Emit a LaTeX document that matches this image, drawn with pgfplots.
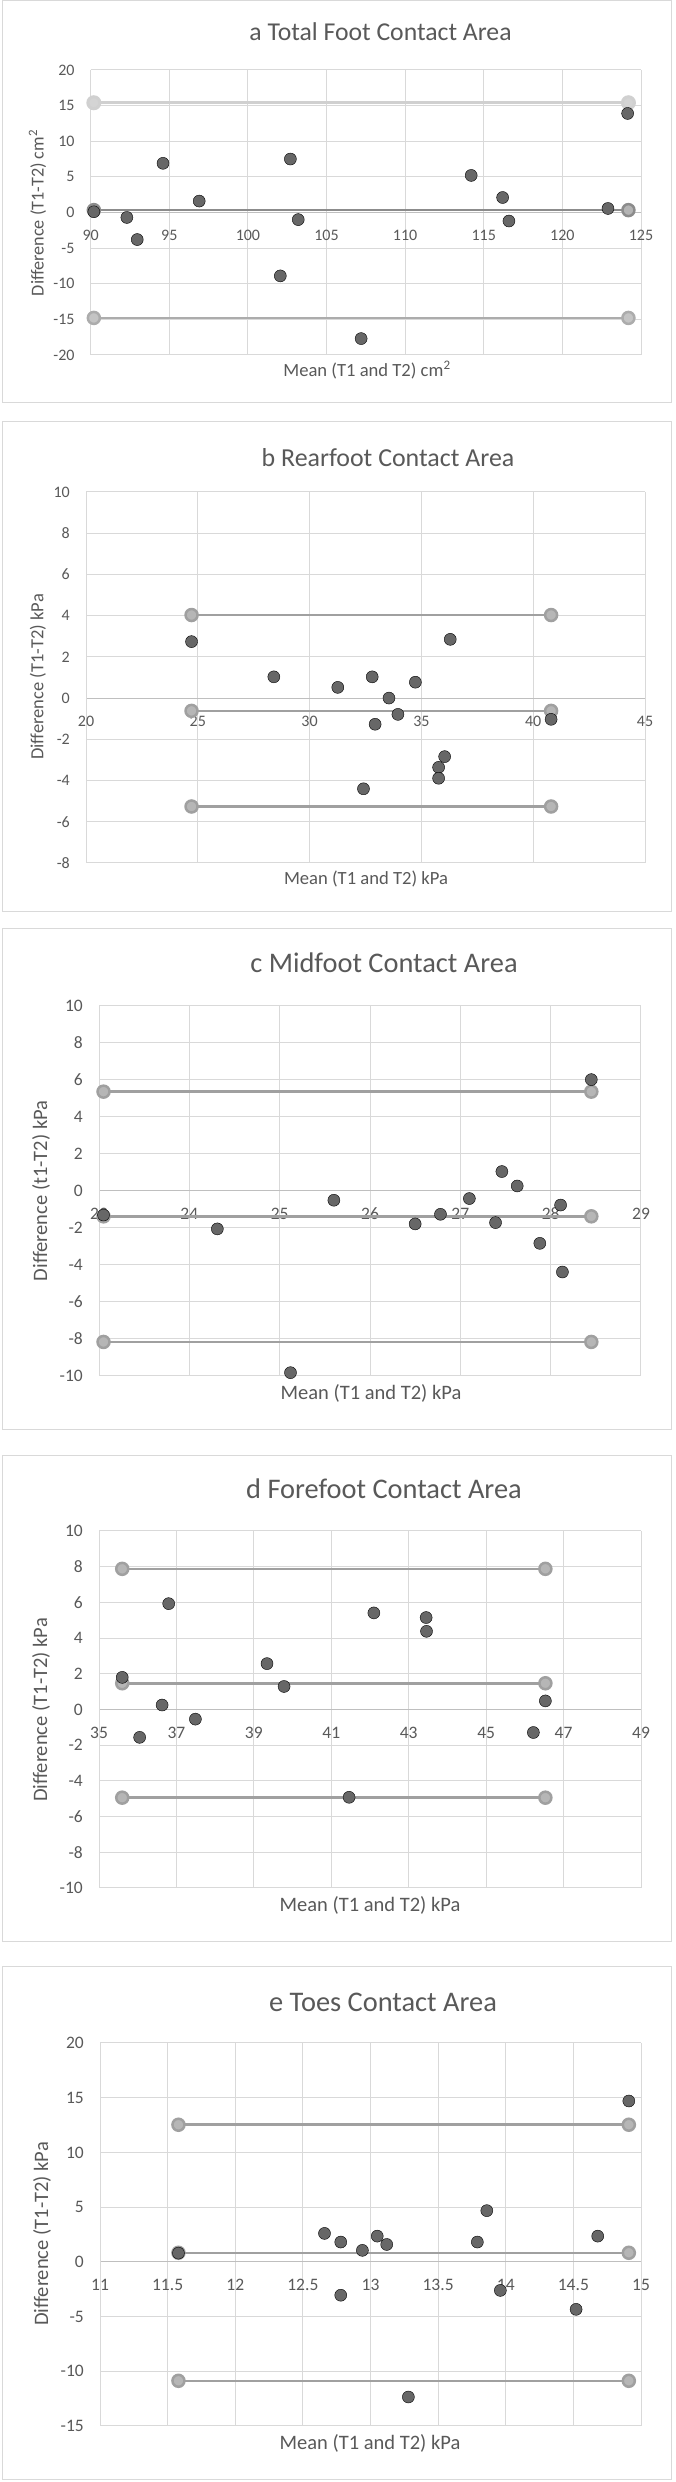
\documentclass[border=0pt]{standalone}
\usepackage{pgfplots}
\pgfplotsset{compat=1.18}
\usepackage{fontspec}
\setmainfont{Carlito}
\definecolor{txt}{HTML}{595959}
\definecolor{grd}{HTML}{D9D9D9}
\definecolor{axl}{HTML}{BFBFBF}
\definecolor{frm}{HTML}{D9D9D9}
\definecolor{dot}{HTML}{676767}
\definecolor{lnA}{HTML}{D0D0D0}
\definecolor{lnB}{HTML}{8C8C8C}
\definecolor{lnC}{HTML}{ACACAC}
\definecolor{mkA}{HTML}{D4D4D4}
\definecolor{mkB}{HTML}{B4B4B4}
\definecolor{mkC}{HTML}{C4C4C4}
\definecolor{ln}{HTML}{A0A0A0}
\definecolor{mk}{HTML}{B6B6B6}
\pgfplotsset{
  ba/.style={
    scale only axis, anchor=south west,
    axis x line=middle, axis y line=left,
    axis line style={-, draw=grd, line width=1pt},
    x axis line style={-, draw=axl, line width=1pt},
    grid=major, grid style={draw=grd, line width=1pt},
    major tick length=0pt, tick style={draw=none},
    hide obscured x ticks=false, hide obscured y ticks=false,
    /pgf/number format/assume math mode=true,
    ticklabel style={text=txt, font=\fontsize{#1}{#1}\selectfont},
    yticklabel style={anchor=east, inner sep=0pt, xshift=-16pt},
    xticklabel style={anchor=center, inner sep=0pt, yshift=-23pt},
    clip=false,
  },
  dat/.style={only marks, mark=*, mark size=6pt, mark options={draw=none, fill=dot}},
  loa/.style 2 args={line width=2.5pt, color=#1, mark=*, mark size=6pt, mark options={draw=none, fill=#2}},
}
\newcommand{\ttl}[1]{\fontsize{#1}{#1}\selectfont}
\begin{document}
\begin{tikzpicture}
\useasboundingbox (0pt,0pt) rectangle (676pt,2482pt);
\fill[white] (0pt,0pt) rectangle (676pt,2482pt);
% frames
\draw[frm, line width=1pt] (2pt,2079pt) rectangle (671pt,2481.5pt);
\draw[frm, line width=1pt] (2pt,1570pt) rectangle (671pt,2060pt);
\draw[frm, line width=1pt] (2pt,1052pt) rectangle (671pt,1553pt);
\draw[frm, line width=1pt] (2pt,540pt) rectangle (671pt,1026pt);
\draw[frm, line width=1pt] (2pt,2pt) rectangle (671pt,515pt);

% ---------- a ----------
\begin{axis}[ba=16, at={(90.7pt,2127pt)}, width=550.3pt, height=285pt,
  xmin=90, xmax=125, ymin=-20, ymax=20,
  xtick={90,95,100,105,110,115,120,125}, ytick={-20,-15,-10,-5,0,5,10,15,20}]
\addplot[loa={lnA}{mkA}, line width=3pt] coordinates {(90.2,15.4) (124.2,15.4)};
\addplot[loa={lnB}{mkB}, line width=2.5pt] coordinates {(90.2,0.33) (124.2,0.33)};
\addplot[loa={lnC}{mkC}, line width=2.5pt] coordinates {(90.2,-14.8) (124.2,-14.8)};
\addplot[dat] coordinates {
(90.2,0.1) (92.3,-0.7) (92.96,-3.8) (94.6,6.9) (96.9,1.6) (102.06,-8.9)
(102.7,7.5) (103.2,-1.0) (107.2,-17.7) (114.2,5.2) (116.2,2.1) (116.6,-1.2)
(122.9,0.56) (124.15,13.9)};
\end{axis}
\node[text=txt, font=\ttl{25.7}] at (380.5pt,2450pt) {a Total Foot Contact Area};
\node[text=txt, font=\ttl{18.6}] at (367pt,2112pt) {Mean (T1 and T2) cm\textsuperscript{2}};
\node[text=txt, font=\ttl{18.2}, rotate=90] at (37.5pt,2269pt) {Difference (T1-T2) cm\textsuperscript{2}};

% ---------- b ----------
\begin{axis}[ba=16, at={(86pt,1619pt)}, width=559pt, height=371pt,
  xmin=20, xmax=45, ymin=-8, ymax=10,
  xtick={20,25,30,35,40,45}, ytick={-8,-6,-4,-2,0,2,4,6,8,10}]
\addplot[loa={ln}{mk}] coordinates {(24.72,4.03) (40.8,4.03)};
\addplot[loa={ln}{mk}] coordinates {(24.72,-0.62) (40.8,-0.62)};
\addplot[loa={ln}{mk}] coordinates {(24.72,-5.26) (40.8,-5.26)};
\addplot[dat] coordinates {
(24.72,2.74) (28.4,1.03) (31.26,0.52) (32.8,1.03) (33.55,0.0) (34.73,0.77)
(33.95,-0.79) (32.93,-1.27) (36.29,2.85) (36.04,-2.84) (35.77,-3.36)
(35.77,-3.89) (32.41,-4.40) (40.8,-1.03)};
\end{axis}
\node[text=txt, font=\ttl{25.9}] at (388pt,2024pt) {b Rearfoot Contact Area};
\node[text=txt, font=\ttl{18.6}] at (366pt,1603pt) {Mean (T1 and T2) kPa};
\node[text=txt, font=\ttl{18.5}, rotate=90] at (38pt,1805pt) {Difference (T1-T2) kPa};

% ---------- c ----------
\begin{axis}[ba=17.5, at={(99pt,1106pt)}, width=542pt, height=370pt,
  xmin=23, xmax=29, ymin=-10, ymax=10,
  xtick={23,24,25,26,27,28,29}, ytick={-10,-8,-6,-4,-2,0,2,4,6,8,10}]
\addplot[loa={ln}{mk}] coordinates {(23.05,5.37) (28.45,5.37)};
\addplot[loa={ln}{mk}] coordinates {(23.05,-1.37) (28.45,-1.37)};
\addplot[loa={ln}{mk}] coordinates {(23.05,-8.16) (28.45,-8.16)};
\addplot[dat] coordinates {
(23.05,-1.30) (24.31,-2.05) (25.12,-9.82) (25.6,-0.50) (26.5,-1.78)
(26.78,-1.26) (27.1,-0.41) (27.39,-1.71) (27.46,1.05) (27.63,0.27)
(27.88,-2.83) (28.11,-0.76) (28.13,-4.38) (28.45,6.02)};
\end{axis}
\node[text=txt, font=\ttl{28.4}] at (384pt,1519pt) {c Midfoot Contact Area};
\node[text=txt, font=\ttl{20.5}] at (371pt,1089pt) {Mean (T1 and T2) kPa};
\node[text=txt, font=\ttl{20.5}, rotate=90] at (41pt,1291pt) {Difference (t1-T2) kPa};

% ---------- d ----------
\begin{axis}[ba=17.5, at={(99pt,594pt)}, width=542pt, height=357pt,
  xmin=35, xmax=49, ymin=-10, ymax=10,
  xtick={35,37,39,41,43,45,47,49}, ytick={-10,-8,-6,-4,-2,0,2,4,6,8,10}]
\addplot[loa={ln}{mk}] coordinates {(35.6,7.88) (46.53,7.88)};
\addplot[loa={ln}{mk}] coordinates {(35.6,1.47) (46.53,1.47)};
\addplot[loa={ln}{mk}] coordinates {(35.6,-4.94) (46.53,-4.94)};
\addplot[dat] coordinates {
(35.6,1.80) (36.05,-1.56) (36.63,0.25) (36.80,5.93) (37.49,-0.54)
(39.34,2.57) (39.78,1.29) (41.46,-4.92) (42.1,5.41) (43.45,5.15)
(43.46,4.38) (46.22,-1.29) (46.53,0.48)};
\end{axis}
\node[text=txt, font=\ttl{28.4}] at (384pt,993pt) {d Forefoot Contact Area};
\node[text=txt, font=\ttl{20.5}] at (370pt,577pt) {Mean (T1 and T2) kPa};
\node[text=txt, font=\ttl{20.5}, rotate=90] at (41pt,772pt) {Difference (T1-T2) kPa};

% ---------- e ----------
\begin{axis}[ba=17.5, at={(100pt,56pt)}, width=541pt, height=383pt,
  xmin=11, xmax=15, ymin=-15, ymax=20,
  xtick={11,11.5,12,12.5,13,13.5,14,14.5,15}, ytick={-15,-10,-5,0,5,10,15,20},
  xticklabel={\pgfmathprintnumber[fixed]{\tick}}]
\addplot[loa={ln}{mk}] coordinates {(11.58,12.53) (14.91,12.53)};
\addplot[loa={ln}{mk}] coordinates {(11.58,0.83) (14.91,0.83)};
\addplot[loa={ln}{mk}] coordinates {(11.58,-10.87) (14.91,-10.87)};
\addplot[dat] coordinates {
(11.58,0.8) (12.66,2.6) (12.78,1.81) (12.78,-3.05) (12.94,1.05) (13.05,2.35)
(13.12,1.59) (13.28,-12.35) (13.79,1.81) (13.86,4.68) (13.96,-2.61)
(14.52,-4.34) (14.68,2.35) (14.91,14.7)};
\end{axis}
\node[text=txt, font=\ttl{28.4}] at (383pt,480pt) {e Toes Contact Area};
\node[text=txt, font=\ttl{20.5}] at (370pt,39pt) {Mean (T1 and T2) kPa};
\node[text=txt, font=\ttl{20.5}, rotate=90] at (42pt,248pt) {Difference (T1-T2) kPa};
\end{tikzpicture}
\end{document}
